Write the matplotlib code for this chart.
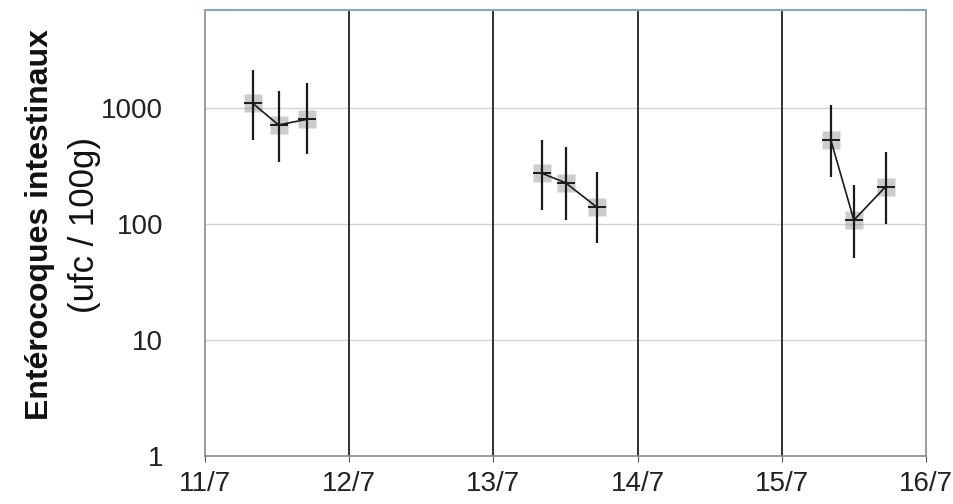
import numpy as np
import matplotlib
matplotlib.use("Agg")
import matplotlib.pyplot as plt

# sampling times (day of July) and counts per sampling day
days = [11, 12, 13, 14, 15, 16]
day_labels = ["11/7", "12/7", "13/7", "14/7", "15/7", "16/7"]

t1 = [11.33, 11.51, 11.71]
v1 = [1100, 715, 800]
lo1 = [530, 345, 400]
hi1 = [2130, 1410, 1630]

t2 = [13.335, 13.50, 13.72]
v2 = [274, 227, 139]
lo2 = [132, 108, 68]
hi2 = [530, 464, 283]

t3 = [15.34, 15.50, 15.72]
v3 = [530, 108, 210]
lo3 = [256, 51, 101]
hi3 = [1060, 217, 420]

y_ticks = [1, 10, 100, 1000]

plt.rcParams['font.family'] = ['Liberation Sans', 'DejaVu Sans']

fig = plt.figure(figsize=(9.54, 5.04), dpi=100)
ax = fig.add_axes([205 / 954, 1 - 456 / 504, (926 - 205) / 954, (456 - 10) / 504])

# horizontal grid and day separators
for v in y_ticks[1:]:
    ax.axhline(v, color='#d4d4d4', lw=1, zorder=0)
for d in days[1:-1]:
    ax.axvline(d, color='#303030', lw=1.4, zorder=1)

for t, v, lo, hi in [(t1, v1, lo1, hi1), (t2, v2, lo2, hi2), (t3, v3, lo3, hi3)]:
    t = np.array(t)
    v = np.array(v)
    yerr = [v - np.array(lo), np.array(hi) - v]
    ax.errorbar(t, v, yerr=yerr, fmt='none', ecolor='#1a1a1a', elinewidth=1.6, capsize=0, zorder=3)
    ax.plot(t, v, color='#1a1a1a', lw=1.2, zorder=3)
    ax.plot(t, v, 's', ms=13, color='#9a9a9a', alpha=0.5, mec='none', zorder=2)
    ax.plot(t, v, '_', ms=13, mew=1.4, color='#1a1a1a', zorder=4)

ax.set_yscale('log')
ax.set_ylim(1, 7000)
ax.set_xlim(11, 16)
ax.set_yticks(y_ticks)
ax.set_yticklabels([str(v) for v in y_ticks])
ax.yaxis.set_minor_locator(matplotlib.ticker.NullLocator())
ax.set_xticks(days)
ax.set_xticklabels(day_labels)
ax.tick_params(axis='y', length=0, pad=30, labelsize=20, labelcolor='#222222')
ax.tick_params(axis='x', length=4, color='#555555', pad=7, labelsize=20, labelcolor='#222222')

for s in ['left', 'bottom', 'right']:
    ax.spines[s].set_color('#8a8a8a')
    ax.spines[s].set_linewidth(1.2)
ax.spines['top'].set_color('#7fa6d6')
ax.spines['top'].set_linewidth(1.5)

fig.text(40 / 954, 1 - 225 / 504, "Entérocoques intestinaux", rotation=90,
         ha='center', va='center', fontsize=23, fontweight='bold', color='#111111')
fig.text(85 / 954, 1 - 225 / 504, "(ufc / 100g)", rotation=90,
         ha='center', va='center', fontsize=25, color='#111111')

fig.savefig("out.png", dpi=100)
